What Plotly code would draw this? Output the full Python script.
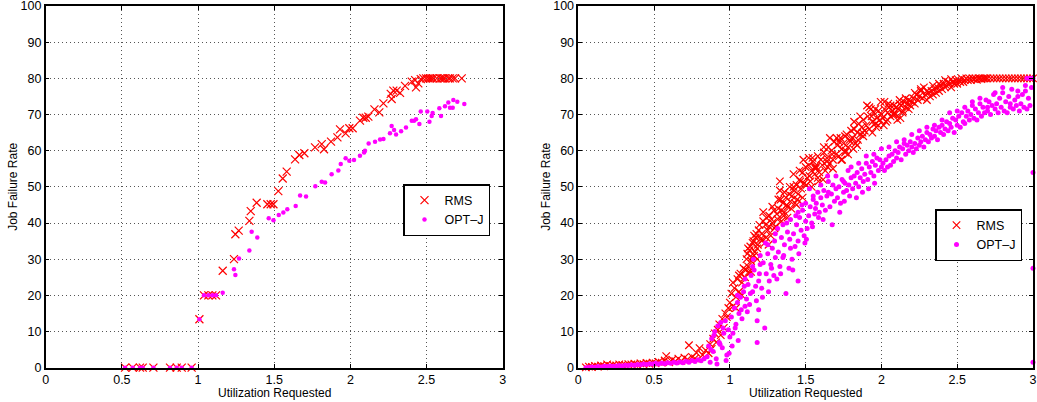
import plotly.graph_objects as go

# ---------------- Left panel data ----------------
left_rms_x = [0.521, 0.571, 0.619, 0.637, 0.707, 0.816, 0.860, 0.893, 0.958,
              1.009, 1.039, 1.068, 1.094, 1.118, 1.162, 1.236, 1.245, 1.267, 1.337, 1.346,
              1.385, 1.455, 1.477, 1.495, 1.527, 1.556, 1.582, 1.637, 1.665, 1.698,
              1.768, 1.812, 1.827, 1.873, 1.915, 1.932, 1.969, 1.993, 2.015, 2.063,
              2.085, 2.101, 2.118, 2.158, 2.190, 2.217, 2.265, 2.271, 2.282, 2.304,
              2.326, 2.359, 2.403, 2.425, 2.431, 2.446, 2.462, 2.479, 2.497, 2.512,
              2.523, 2.534, 2.545, 2.567, 2.589, 2.600, 2.611, 2.621, 2.643, 2.654,
              2.672, 2.687, 2.731]
left_rms_y = [0, 0, 0, 0, 0, 0, 0, 0, 0,
              13.4, 20, 20, 20, 20, 26.8, 30.0, 36.9, 37.9, 40.6, 43.3,
              45.6, 45.2, 45.2, 45.2, 48.8, 52.3, 54.2, 57.6, 58.8, 59.3,
              60.9, 61.8, 60.4, 62.5, 63.7, 65.9, 64.8, 66.2, 66.2, 68.3,
              69.1, 69.1, 69.4, 71.4, 70.6, 73.1, 75.7, 74.3, 76.6, 76.6,
              76.0, 77.9, 79.1, 79.5, 77.5, 78.6, 79.8, 80, 80, 80,
              80, 80, 80, 80, 80, 80, 80, 80, 80, 80,
              80, 80, 80]

left_opt_x = [0.521, 0.571, 0.619, 0.637, 0.707, 0.816, 0.860, 0.893, 0.958,
              1.009, 1.039, 1.068, 1.094, 1.118, 1.162, 1.236, 1.245, 1.269, 1.337, 1.352,
              1.389, 1.464, 1.495, 1.530, 1.560, 1.586, 1.641, 1.670, 1.709, 1.770,
              1.812, 1.834, 1.877, 1.921, 1.937, 1.969, 1.993, 2.024, 2.063, 2.090,
              2.096, 2.120, 2.162, 2.195, 2.217, 2.260, 2.271, 2.287, 2.300, 2.333,
              2.365, 2.403, 2.418, 2.431, 2.453, 2.462, 2.505, 2.519, 2.534, 2.540,
              2.584, 2.595, 2.621, 2.643, 2.654, 2.672, 2.676, 2.702, 2.748]
left_opt_y = [0, 0, 0, 0, 0, 0, 0, 0, 0,
              13.4, 20, 20, 20, 20, 20.7, 27.2, 25.6, 30.2, 32.4, 37.6,
              36.0, 41.3, 40.8, 42.2, 42.9, 43.8, 44.7, 47.6, 47.3, 50.2,
              51.4, 51.2, 53.5, 54.5, 56.3, 57.9, 57.2, 57.4, 58.6, 59.5,
              60.0, 62.0, 62.5, 63.1, 63.2, 64.8, 66.8, 65.7, 64.5, 65.4,
              66.4, 68.3, 68.3, 68.7, 67.4, 70.8, 70.8, 68.0, 69.6, 70.4,
              71.7, 69.6, 72.3, 73.3, 71.9, 71.9, 74.0, 73.5, 72.9]

# ---------------- Right panel data ----------------
right_rms_x = [
    0.05, 0.07, 0.09, 0.11, 0.13, 0.15, 0.17, 0.19, 0.21, 0.23, 0.25, 0.27, 0.29, 0.31, 0.33, 0.35,
    0.37, 0.39, 0.41, 0.43, 0.45, 0.47, 0.49,
    0.51, 0.53, 0.55, 0.57, 0.58, 0.60, 0.62, 0.64, 0.66, 0.68, 0.70, 0.72, 0.73, 0.75, 0.77, 0.78,
    0.80, 0.82, 0.84,
    0.86, 0.87, 0.88, 0.89, 0.90, 0.91, 0.92, 0.93, 0.94, 0.95, 0.96, 0.97, 0.98, 0.99, 1.00,
    1.01, 1.02, 1.03, 1.04, 1.05, 1.06, 1.07, 1.08, 1.09, 1.10,
    1.11, 1.12, 1.13, 1.14, 1.15, 1.16, 1.17, 1.18, 1.19, 1.20,
    1.105, 1.115, 1.125, 1.135, 1.145, 1.155, 1.165, 1.175, 1.185, 1.195,
    1.21, 1.22, 1.23, 1.24, 1.25, 1.26, 1.27, 1.28, 1.29, 1.30, 1.215, 1.235, 1.255, 1.275, 1.295,
    1.31, 1.32, 1.33, 1.33, 1.34, 1.35, 1.36, 1.37, 1.38, 1.39, 1.40, 1.315, 1.335, 1.355, 1.375, 1.395,
    1.41, 1.42, 1.43, 1.44, 1.45, 1.46, 1.47, 1.48, 1.49, 1.50, 1.405, 1.425, 1.445, 1.465, 1.485,
    1.51, 1.52, 1.53, 1.54, 1.55, 1.56, 1.57, 1.58, 1.59, 1.60, 1.505, 1.525, 1.545, 1.565, 1.585,
    1.61, 1.62, 1.63, 1.64, 1.65, 1.66, 1.67, 1.68, 1.69, 1.70, 1.71, 1.72, 1.73, 1.74, 1.75, 1.76,
    1.77, 1.78, 1.79, 1.80, 1.615, 1.645, 1.675, 1.705, 1.735, 1.765, 1.795,
    1.81, 1.82, 1.83, 1.84, 1.85, 1.86, 1.87, 1.88, 1.89, 1.90, 1.91, 1.92, 1.93, 1.94, 1.95, 1.96,
    1.97, 1.98, 1.99, 2.00, 1.815, 1.845, 1.875, 1.905, 1.935, 1.965, 1.995,
    2.01, 2.02, 2.03, 2.04, 2.05, 2.06, 2.07, 2.08, 2.09, 2.10, 2.11, 2.12, 2.13, 2.14, 2.15, 2.16,
    2.17, 2.18, 2.19, 2.20, 2.015, 2.045, 2.085, 2.105, 2.125,
    2.21, 2.22, 2.23, 2.24, 2.25, 2.26, 2.27, 2.28, 2.29, 2.30, 2.31, 2.32, 2.33, 2.34, 2.35, 2.36,
    2.37, 2.38, 2.39, 2.40, 2.41, 2.42, 2.43, 2.44, 2.45, 2.46, 2.47, 2.48, 2.49, 2.50,
    2.51, 2.52, 2.53, 2.54, 2.55, 2.56, 2.57, 2.58, 2.59, 2.60, 2.61, 2.62, 2.63, 2.64, 2.65, 2.66,
    2.67, 2.68, 2.69, 2.70, 2.72, 2.74,
    2.76, 2.78, 2.80, 2.82, 2.84, 2.86, 2.88, 2.90, 2.92, 2.94, 2.96, 2.98, 3.00,
    1.02, 1.04, 1.06, 1.08, 1.12, 1.14, 1.16, 1.18, 1.22, 1.24, 1.26, 1.28, 1.32, 1.34, 1.36, 1.38,
    1.42, 1.44, 1.46, 1.48, 1.52, 1.54, 1.56, 1.58, 1.62, 1.64, 1.66, 1.68, 1.72, 1.74, 1.76, 1.78,
    1.82, 1.84, 1.86, 1.88, 1.92, 1.94, 1.96, 1.98, 2.02, 2.04, 2.06, 2.08, 2.12, 2.14, 2.16, 2.18,
    2.22, 2.26, 2.30, 2.34, 2.38, 2.42, 2.46]
right_rms_y = [
    0.1, 0.3, 0.2, 0.5, 0.3, 0.6, 0.4, 0.9, 0.5, 0.7, 0.6, 0.9, 0.8, 0.7, 1.0, 0.9,
    1.1, 0.8, 1.2, 1.0, 1.3, 1.1, 1.4,
    1.2, 1.6, 1.4, 2.0, 3.2, 1.5, 2.2, 1.8, 2.5, 1.9, 2.8, 2.3, 6.2, 3.0, 2.6, 4.1,
    5.4, 3.5, 4.8,
    4.0, 6.5, 5.2, 8.0, 9.5, 7.0, 10.5, 12.0, 9.0, 13.5, 11.0, 15.0, 14.0, 16.5, 18.0,
    20.5, 17.0, 22.0, 19.5, 24.5, 21.0, 26.0, 23.5, 27.5, 25.0,
    30.0, 28.0, 32.5, 29.5, 34.5, 31.0, 36.0, 33.0, 38.0, 35.5,
    27.0, 31.5, 26.5, 33.5, 30.5, 35.0, 32.0, 37.0, 34.0, 39.5,
    37.0, 40.5, 34.5, 41.5, 38.0, 42.0, 36.5, 40.0, 43.5, 39.0, 35.5, 39.5, 34.0, 41.0, 38.5,
    42.5, 44.0, 51.5, 49.0, 40.5, 45.5, 43.0, 47.0, 44.5, 48.0, 46.0, 41.0, 46.5, 42.0, 45.0, 50.0,
    47.5, 53.5, 45.5, 50.5, 48.0, 52.0, 49.5, 54.0, 51.0, 55.5, 44.0, 49.0, 46.5, 51.5, 57.5,
    52.5, 56.0, 51.5, 54.5, 57.0, 53.5, 55.5, 58.5, 54.0, 57.5, 50.5, 53.0, 58.0, 55.0, 51.5,
    56.0, 59.5, 54.5, 58.0, 61.0, 56.5, 60.0, 57.5, 62.5, 59.0, 61.5, 58.5, 63.5, 60.5, 62.0, 59.5,
    64.5, 61.0, 63.0, 65.5, 52.0, 55.5, 59.0, 63.5, 57.5, 60.0, 62.5,
    63.5, 66.0, 62.0, 65.0, 67.5, 64.5, 66.5, 68.5, 65.5, 67.0, 69.5, 66.0, 71.5, 68.0, 70.5, 67.5,
    69.0, 71.0, 68.5, 70.0, 60.5, 63.0, 65.0, 72.5, 69.5, 66.5, 73.5,
    69.0, 71.5, 68.0, 70.5, 72.0, 69.5, 71.0, 72.5, 70.0, 72.0, 71.5, 73.0, 72.5, 71.0, 73.5, 72.0,
    73.0, 74.0, 72.5, 73.5, 67.0, 73.0, 70.5, 68.5, 69.0,
    74.5, 73.0, 75.5, 74.0, 75.0, 76.5, 74.5, 77.5, 75.5, 74.0, 76.0, 75.0, 76.5, 75.5, 77.0, 76.0,
    77.5, 76.5, 78.0, 77.0, 78.5, 77.5, 78.0, 79.0, 78.5, 77.5, 79.0, 78.5, 79.5, 78.5,
    79.5, 79.0, 80.0, 79.0, 79.5, 80.0, 79.5, 80.0, 79.5, 80.0, 79.8, 80.0, 79.6, 80.0, 80.0, 79.8,
    80.0, 80.0, 80.0, 80.0, 80.0, 80.0,
    80.0, 80.0, 80.0, 80.0, 80.0, 80.0, 80.0, 80.0, 80.0, 80.0, 80.0, 80.0, 80.0,
    23.5, 16.5, 25.5, 20.0, 33.0, 26.5, 36.5, 30.0, 43.0, 36.0, 39.0, 44.5, 46.5, 43.5, 48.5, 41.5,
    50.0, 45.0, 54.5, 47.0, 58.0, 50.0, 55.5, 52.5, 61.0, 57.0, 63.5, 55.0, 62.5, 57.5, 64.0, 59.0,
    68.0, 61.5, 69.5, 64.0, 72.0, 65.0, 71.5, 67.0, 73.5, 68.5, 72.5, 70.0, 74.0, 70.5, 74.5, 71.5,
    76.0, 77.0, 76.5, 78.0, 78.5, 79.5, 79.8]

right_opt_x = [
    0.05, 0.07, 0.09, 0.11, 0.13, 0.15, 0.17, 0.19, 0.21, 0.23, 0.25, 0.27, 0.29, 0.31, 0.33, 0.35,
    0.37, 0.39, 0.41, 0.43, 0.45, 0.47, 0.49, 0.51, 0.53, 0.55, 0.57, 0.59, 0.61, 0.63, 0.65, 0.67,
    0.69, 0.71, 0.73, 0.75, 0.77, 0.79, 0.81, 0.83,
    0.85, 0.86, 0.87, 0.88, 0.89, 0.90, 0.91, 0.92, 0.93, 0.94, 0.95, 0.96, 0.97, 0.98, 0.99, 1.00,
    0.875, 0.895, 0.915, 0.935, 0.955, 0.975, 0.995,
    1.01, 1.02, 1.03, 1.04, 1.05, 1.06, 1.07, 1.08, 1.09, 1.10, 1.015, 1.035, 1.055, 1.075, 1.095,
    1.11, 1.12, 1.13, 1.14, 1.15, 1.16, 1.17, 1.18, 1.19, 1.20, 1.115, 1.135, 1.155, 1.175, 1.195,
    1.18, 1.19,
    1.21, 1.22, 1.23, 1.24, 1.25, 1.26, 1.27, 1.28, 1.29, 1.30, 1.215, 1.235, 1.255, 1.275, 1.295,
    1.31, 1.32, 1.33, 1.34, 1.35, 1.36, 1.37, 1.38, 1.39, 1.40, 1.315, 1.335, 1.355, 1.375, 1.395,
    1.41, 1.42, 1.43, 1.44, 1.45, 1.46, 1.47, 1.48, 1.49, 1.50, 1.415, 1.435, 1.455, 1.475, 1.495, 1.45,
    1.51, 1.52, 1.53, 1.54, 1.55, 1.56, 1.57, 1.58, 1.59, 1.60, 1.505, 1.525, 1.545, 1.565, 1.585,
    1.61, 1.62, 1.63, 1.64, 1.65, 1.66, 1.67, 1.68, 1.69, 1.70, 1.615, 1.645, 1.675,
    1.71, 1.72, 1.73, 1.74, 1.75, 1.76, 1.77, 1.78, 1.79, 1.80, 1.725, 1.755, 1.785,
    1.81, 1.82, 1.83, 1.84, 1.85, 1.86, 1.87, 1.88, 1.89, 1.90, 1.91, 1.92, 1.93, 1.94, 1.95, 1.96,
    1.97, 1.98, 1.99, 2.00, 1.835, 1.875, 1.915, 1.955,
    2.01, 2.02, 2.03, 2.04, 2.05, 2.06, 2.07, 2.08, 2.09, 2.10, 2.11, 2.12, 2.13, 2.14, 2.15, 2.16,
    2.17, 2.18, 2.19, 2.20,
    2.21, 2.22, 2.23, 2.24, 2.25, 2.26, 2.27, 2.28, 2.29, 2.30, 2.31, 2.32, 2.33, 2.34, 2.35, 2.36,
    2.37, 2.38, 2.39, 2.40,
    2.41, 2.42, 2.43, 2.44, 2.45, 2.46, 2.47, 2.48, 2.49, 2.50, 2.51, 2.52, 2.53, 2.54, 2.55, 2.56,
    2.57, 2.58, 2.59, 2.60,
    2.61, 2.62, 2.63, 2.64, 2.65, 2.66, 2.67, 2.68, 2.69, 2.70, 2.71, 2.72, 2.73, 2.74, 2.75, 2.76,
    2.77, 2.78, 2.79, 2.80,
    2.81, 2.82, 2.83, 2.84, 2.85, 2.86, 2.87, 2.88, 2.89, 2.90, 2.91, 2.92, 2.93, 2.94, 2.95, 2.96,
    2.97, 2.98, 2.99, 3.00, 3.00, 3.00, 3.00, 2.96, 2.98,
    1.05, 1.10, 1.15, 1.20, 1.25, 1.30, 1.35, 1.40, 1.45, 1.50, 1.55, 1.60, 1.65, 1.70, 1.75, 1.80,
    1.85, 1.90, 1.95, 2.00, 2.05, 2.10, 2.15, 2.20, 2.25, 2.30, 2.35, 2.40, 2.45, 2.50, 2.55, 2.60,
    2.65, 2.70, 2.75, 2.80, 2.85, 2.90, 2.95]
right_opt_y = [
    0.0, 0.1, 0.2, 0.1, 0.3, 0.2, 0.4, 0.3, 0.5, 0.4, 0.5, 0.6, 0.5, 0.7, 0.6, 0.8,
    0.7, 0.9, 0.8, 1.0, 0.9, 1.1, 1.0, 1.2, 1.0, 1.3, 1.1, 1.4, 1.2, 1.5, 1.3, 1.6,
    1.4, 1.8, 1.5, 2.0, 1.7, 2.2, 1.9, 2.5,
    3.0, 6.0, 1.5, 8.0, 4.5, 10.0, 2.5, 11.5, 7.0, 12.5, 5.5, 9.5, 13.0, 3.5, 10.5, 8.5,
    5.0, 9.0, 1.0, 6.5, 11.0, 2.0, 4.0,
    14.0, 9.5, 16.5, 12.0, 18.0, 15.0, 19.5, 13.5, 21.0, 17.0, 6.0, 11.0, 7.5, 16.0, 22.5,
    19.0, 23.0, 17.5, 25.5, 21.0, 27.0, 22.5, 7.0, 24.0, 28.5, 15.5, 20.5, 30.0, 18.5, 26.0,
    13.0, 16.0,
    22.0, 29.0, 11.0, 26.0, 31.5, 24.0, 28.5, 33.0, 25.5, 30.5, 19.5, 34.5, 21.0, 27.5, 35.0,
    24.5, 32.0, 28.0, 36.0, 30.5, 34.0, 20.5, 37.5, 27.5, 33.0, 38.5, 26.0, 31.0, 40.0, 35.5,
    30.0, 37.0, 33.5, 39.5, 35.0, 41.5, 38.0, 43.5, 36.5, 40.5, 27.0, 42.0, 31.5, 45.0, 34.5, 24.0,
    38.5, 42.0, 44.5, 40.0, 46.5, 42.5, 45.5, 48.5, 43.0, 47.0, 35.5, 49.5, 39.0, 44.0, 41.5,
    45.0, 49.0, 43.5, 47.5, 51.5, 44.5, 48.0, 50.5, 46.0, 49.5, 41.0, 53.0, 39.5,
    47.0, 50.0, 45.5, 52.0, 48.5, 51.0, 49.0, 54.5, 47.5, 52.5, 43.0, 46.0, 50.5,
    49.5, 53.0, 51.0, 54.0, 50.0, 52.5, 55.0, 51.5, 53.5, 56.5, 52.0, 55.5, 54.0, 57.0, 53.0, 56.0,
    58.0, 54.5, 57.5, 55.5, 47.0, 48.5, 49.5, 51.0,
    56.5, 54.5, 57.5, 55.5, 58.5, 56.0, 59.0, 57.0, 60.0, 58.0, 59.5, 61.0, 57.5, 60.5, 62.0, 59.0,
    61.5, 60.0, 62.5, 61.0,
    59.5, 62.0, 60.5, 63.5, 61.5, 62.5, 64.0, 61.0, 63.0, 65.0, 62.5, 64.5, 63.5, 66.0, 64.0, 65.5,
    63.0, 66.5, 65.0, 67.0,
    64.5, 66.0, 68.0, 65.5, 67.5, 66.5, 69.0, 65.0, 68.5, 67.0, 69.5, 66.5, 70.5, 68.0, 67.5, 69.5,
    71.0, 68.5, 70.0, 72.5,
    69.0, 71.5, 68.5, 70.5, 73.0, 69.5, 72.0, 70.5, 74.0, 71.0, 73.5, 70.0, 72.5, 75.5, 71.5, 73.0,
    70.5, 74.5, 72.0, 76.0,
    71.0, 73.5, 70.5, 75.0, 72.0, 77.0, 71.5, 74.0, 72.5, 76.5, 71.0, 73.0, 75.5, 72.0, 78.0, 71.5,
    74.5, 72.5, 77.5, 80.0, 54.0, 27.5, 1.5, 80.0, 80.0,
    20.0, 24.5, 28.0, 31.0, 34.0, 37.0, 39.5, 41.0, 43.0, 45.5, 47.5, 50.5, 48.5, 53.0, 51.5, 55.5,
    56.5, 58.5, 59.0, 60.5, 61.0, 62.5, 63.0, 64.5, 65.5, 66.5, 67.0, 68.5, 70.5, 71.0, 72.0, 73.5,
    74.5, 72.0, 76.0, 77.5, 73.0, 75.0, 76.5]

x_tick_vals = [0, 0.5, 1, 1.5, 2, 2.5, 3]
x_tick_text = ["0", "0.5", "1", "1.5", "2", "2.5", "3"]
y_tick_vals = [0, 10, 20, 30, 40, 50, 60, 70, 80, 90, 100]
x_title = "Utilization Requested"
y_title = "Job Failure Rate"

RED = "#ff0000"
MAGENTA = "#ff00ff"
FONT = "Liberation Sans, Arial, sans-serif"

fig = go.Figure()

def add_pair(xr, yr, xo, yo, xa, ya, leg, rms_size, opt_size):
    fig.add_trace(go.Scatter(
        x=xr, y=yr, mode="markers", name="RMS", xaxis=xa, yaxis=ya, legend=leg,
        cliponaxis=False, hoverinfo="skip",
        marker=dict(symbol="x-thin", size=rms_size, color=RED, line=dict(color=RED, width=1.2)),
    ))
    fig.add_trace(go.Scatter(
        x=xo, y=yo, mode="markers", name="OPT\u2013J", xaxis=xa, yaxis=ya, legend=leg,
        cliponaxis=False, hoverinfo="skip",
        marker=dict(symbol="circle", size=opt_size, color=MAGENTA, line=dict(width=0)),
    ))

add_pair(left_rms_x, left_rms_y, left_opt_x, left_opt_y, "x", "y", "legend", 8, 4.5)
add_pair(right_rms_x, right_rms_y, right_opt_x, right_opt_y, "x2", "y2", "legend2", 7.5, 5)

W, H = 1037, 402
ydom = [1 - 367.7 / H, 1 - 6 / H]
xdom1 = [45.7 / W, 502.7 / W]
xdom2 = [578.3 / W, 1033 / W]

axis_common = dict(
    showline=True, linecolor="black", linewidth=1.5, mirror="ticks",
    ticks="inside", ticklen=4, tickcolor="black",
    showgrid=True, gridcolor="#555555", griddash="1px,3px", gridwidth=1,
    zeroline=False, automargin=False, ticklabeloverflow="allow",
    tickfont=dict(family=FONT, size=12.5, color="black"),
)

xaxis_kw = dict(axis_common, range=[0, 3], tickvals=x_tick_vals, ticktext=x_tick_text)
yaxis_kw = dict(axis_common, range=[0, 100], tickvals=y_tick_vals)

legend_common = dict(
    bgcolor="white", bordercolor="black", borderwidth=1.5,
    font=dict(family=FONT, size=12.5, color="black"),
    xanchor="left", yanchor="top", tracegroupgap=0, itemwidth=30,
)

title_font = dict(family=FONT, size=12, color="black")
annotations = []
for xd, ytitle_px in ((xdom1, 13), (xdom2, 546)):
    annotations.append(dict(text=x_title, xref="paper", yref="paper",
                            x=(xd[0] + xd[1]) / 2, y=1 - 401 / H,
                            xanchor="center", yanchor="bottom", showarrow=False,
                            font=title_font, borderpad=0))
    annotations.append(dict(text=y_title, xref="paper", yref="paper",
                            x=ytitle_px / W, y=(ydom[0] + ydom[1]) / 2, textangle=-90,
                            xanchor="center", yanchor="middle", showarrow=False,
                            font=title_font, borderpad=0))

fig.update_layout(
    width=W, height=H,
    margin=dict(l=0, r=0, t=0, b=0),
    paper_bgcolor="white", plot_bgcolor="white",
    font=dict(family=FONT, color="black"),
    xaxis=dict(xaxis_kw, domain=xdom1, anchor="y"),
    yaxis=dict(yaxis_kw, domain=ydom, anchor="x"),
    xaxis2=dict(xaxis_kw, domain=xdom2, anchor="y2"),
    yaxis2=dict(yaxis_kw, domain=ydom, anchor="x2"),
    legend=dict(legend_common, x=403 / W, y=1 - 184 / H),
    legend2=dict(legend_common, x=935 / W, y=1 - 209 / H),
    showlegend=True,
    annotations=annotations,
    hovermode=False,
)

fig.write_html(
    "out.html",
    config={"displayModeBar": False},
    post_script="document.body.style.margin='0';document.body.style.overflow='hidden';",
)
